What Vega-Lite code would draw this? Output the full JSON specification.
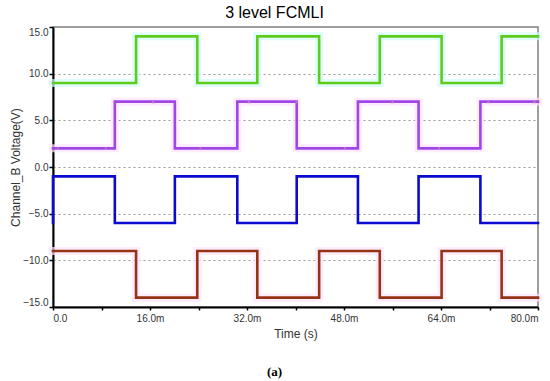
{
  "$schema": "https://vega.github.io/schema/vega-lite/v6.json",
  "width": 485,
  "height": 280,
  "autosize": {"type": "none"},
  "padding": {"left": 53, "top": 27, "right": 12, "bottom": 74},
  "background": "white",
  "title": {
    "text": "3 level FCMLI",
    "font": "Liberation Sans",
    "fontSize": 16,
    "fontWeight": "normal",
    "color": "#000000",
    "anchor": "middle",
    "dx": -21,
    "offset": -1
  },
  "datasets": {
    "signals": [
      {"s": "A", "i": 0, "t": 0, "v": 9},
      {"s": "A", "i": 1, "t": 13.7, "v": 14},
      {"s": "A", "i": 2, "t": 23.8, "v": 9},
      {"s": "A", "i": 3, "t": 33.7, "v": 14},
      {"s": "A", "i": 4, "t": 43.9, "v": 9},
      {"s": "A", "i": 5, "t": 53.9, "v": 14},
      {"s": "A", "i": 6, "t": 64.1, "v": 9},
      {"s": "A", "i": 7, "t": 74.0, "v": 14},
      {"s": "A", "i": 8, "t": 80, "v": 14},
      {"s": "B", "i": 0, "t": 0, "v": 2},
      {"s": "B", "i": 1, "t": 10.2, "v": 7},
      {"s": "B", "i": 2, "t": 20.1, "v": 2},
      {"s": "B", "i": 3, "t": 30.4, "v": 7},
      {"s": "B", "i": 4, "t": 40.2, "v": 2},
      {"s": "B", "i": 5, "t": 50.3, "v": 7},
      {"s": "B", "i": 6, "t": 60.3, "v": 2},
      {"s": "B", "i": 7, "t": 70.5, "v": 7},
      {"s": "B", "i": 8, "t": 80, "v": 7},
      {"s": "C", "i": 0, "t": 0, "v": -6},
      {"s": "C", "i": 1, "t": 0, "v": -1},
      {"s": "C", "i": 2, "t": 10.2, "v": -6},
      {"s": "C", "i": 3, "t": 20.1, "v": -1},
      {"s": "C", "i": 4, "t": 30.4, "v": -6},
      {"s": "C", "i": 5, "t": 40.2, "v": -1},
      {"s": "C", "i": 6, "t": 50.3, "v": -6},
      {"s": "C", "i": 7, "t": 60.3, "v": -1},
      {"s": "C", "i": 8, "t": 70.5, "v": -6},
      {"s": "C", "i": 9, "t": 80, "v": -6},
      {"s": "D", "i": 0, "t": 0, "v": -9},
      {"s": "D", "i": 1, "t": 13.7, "v": -14},
      {"s": "D", "i": 2, "t": 23.8, "v": -9},
      {"s": "D", "i": 3, "t": 33.7, "v": -14},
      {"s": "D", "i": 4, "t": 43.9, "v": -9},
      {"s": "D", "i": 5, "t": 53.9, "v": -14},
      {"s": "D", "i": 6, "t": 64.1, "v": -9},
      {"s": "D", "i": 7, "t": 74.0, "v": -14},
      {"s": "D", "i": 8, "t": 80, "v": -14}
    ],
    "markers": [
      {"t": 0.8, "v": 2},
      {"t": 8.7, "v": 2},
      {"t": 16.5, "v": 7},
      {"t": 24.3, "v": 2},
      {"t": 32.3, "v": 7},
      {"t": 40.2, "v": 7},
      {"t": 48.1, "v": 2},
      {"t": 56.0, "v": 7},
      {"t": 63.7, "v": 2},
      {"t": 71.8, "v": 7},
      {"t": 79.4, "v": 7}
    ]
  },
  "encoding": {
    "y": {
      "field": "v",
      "type": "quantitative",
      "scale": {"domain": [-15, 15], "nice": false, "zero": false},
      "axis": {
        "values": [-15, -10, -5, 0, 5, 10, 15],
        "format": ".1f",
        "labelFlush": true,
        "labelOverlap": false,
        "labelPadding": 1,
        "tickSize": 4,
        "title": "Channel_B Voltage(V)",
        "titleX": -38,
        "titleY": 140,
        "titleAngle": 270,
        "titleBaseline": "middle"
      }
    }
  },
  "layer": [
    {
      "data": {"name": "signals"},
      "transform": [{"filter": "datum.s != 'C'"}],
      "mark": {"type": "line", "interpolate": "step-after", "strokeWidth": 8, "opacity": 0.7, "strokeJoin": "miter", "strokeCap": "square"},
      "encoding": {
        "x": {"field": "t", "type": "quantitative", "scale": {"domain": [0, 80], "nice": false}, "axis": null},
        "order": {"field": "i", "type": "quantitative"},
        "stroke": {
          "field": "s",
          "type": "nominal",
          "scale": {"domain": ["A", "B", "D"], "range": ["#d4fbfb", "#fde2fd", "#fde2fd"]},
          "legend": null
        }
      }
    },
    {
      "data": {"name": "signals"},
      "mark": {"type": "line", "interpolate": "step-after", "strokeWidth": 2.6, "strokeJoin": "miter", "strokeCap": "square"},
      "encoding": {
        "x": {
          "field": "t",
          "type": "quantitative",
          "scale": {"domain": [0, 80], "nice": false},
          "axis": {
            "values": [0, 8, 16, 24, 32, 40, 48, 56, 64, 72, 80],
            "labelExpr": "datum.value % 16 == 0 ? (datum.value == 0 ? '0.0' : format(datum.value, '.1f') + 'm') : ''",
            "labelFlush": true,
            "labelOverlap": false,
            "labelPadding": 3,
            "tickSize": 3,
            "title": "Time (s)",
            "titleY": 30,
            "titleBaseline": "alphabetic"
          }
        },
        "order": {"field": "i", "type": "quantitative"},
        "color": {
          "field": "s",
          "type": "nominal",
          "scale": {"domain": ["A", "B", "C", "D"], "range": ["#5fcc1c", "#a046e6", "#0a0ad0", "#943414"]},
          "legend": null
        }
      }
    },
    {
      "data": {"name": "markers"},
      "mark": {"type": "point", "shape": "triangle-up", "filled": true, "size": 14, "color": "#b77ac4", "opacity": 1},
      "encoding": {
        "x": {
          "field": "t",
          "type": "quantitative",
          "scale": {"domain": [0, 80], "nice": false},
          "axis": {
            "orient": "bottom",
            "grid": false,
            "labels": false,
            "ticks": false,
            "domain": false,
            "title": "(a)",
            "titleFont": "Liberation Serif",
            "titleFontWeight": "bold",
            "titleFontSize": 13,
            "titleColor": "#000000",
            "titleX": 221,
            "titleY": 68,
            "titleBaseline": "alphabetic"
          }
        }
      }
    }
  ],
  "resolve": {"axis": {"x": "independent"}},
  "config": {
    "view": {"stroke": "#808080", "strokeWidth": 1.5},
    "axis": {
      "labelFont": "Liberation Sans",
      "labelFontSize": 10,
      "labelColor": "#333333",
      "titleFont": "Liberation Sans",
      "titleFontWeight": "normal",
      "titleFontSize": 12,
      "titleColor": "#333333",
      "gridColor": "#999999",
      "gridDash": [2, 3],
      "gridWidth": 1,
      "gridOpacity": 1,
      "domainColor": "#000000",
      "domainWidth": 2,
      "tickColor": "#000000",
      "tickWidth": 1.5
    }
  }
}
